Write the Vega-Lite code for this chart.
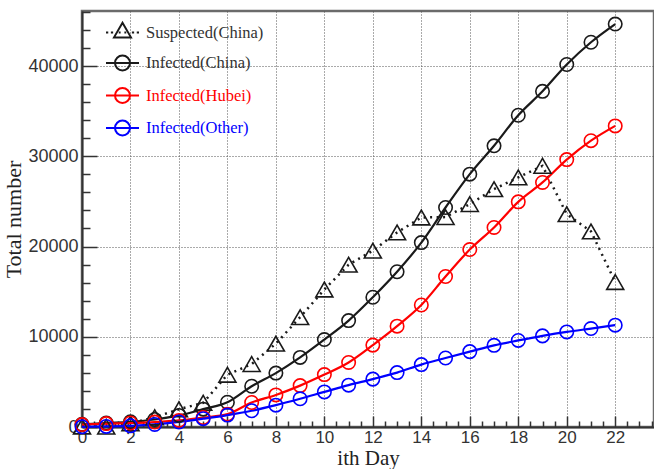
{
  "$schema": "https://vega.github.io/schema/vega-lite/v6.json",
  "width": 572,
  "height": 416,
  "autosize": "none",
  "padding": {"left": 82, "top": 11, "right": 0, "bottom": 42},
  "background": "white",
  "config": {
    "view": {"stroke": "#6b6b6b", "strokeWidth": 2.5},
    "axis": {"labelFont": "Liberation Sans", "titleFont": "Liberation Serif", "titleFontWeight": "normal", "labelColor": "#333", "titleColor": "#222"}
  },
  "data": {"values": [
    {"day": 0, "series": "Suspected(China)", "value": 54},
    {"day": 1, "series": "Suspected(China)", "value": 37},
    {"day": 2, "series": "Suspected(China)", "value": 393},
    {"day": 3, "series": "Suspected(China)", "value": 1072},
    {"day": 4, "series": "Suspected(China)", "value": 1965},
    {"day": 5, "series": "Suspected(China)", "value": 2684},
    {"day": 6, "series": "Suspected(China)", "value": 5794},
    {"day": 7, "series": "Suspected(China)", "value": 6973},
    {"day": 8, "series": "Suspected(China)", "value": 9239},
    {"day": 9, "series": "Suspected(China)", "value": 12167},
    {"day": 10, "series": "Suspected(China)", "value": 15238},
    {"day": 11, "series": "Suspected(China)", "value": 17988},
    {"day": 12, "series": "Suspected(China)", "value": 19544},
    {"day": 13, "series": "Suspected(China)", "value": 21558},
    {"day": 14, "series": "Suspected(China)", "value": 23214},
    {"day": 15, "series": "Suspected(China)", "value": 23260},
    {"day": 16, "series": "Suspected(China)", "value": 24702},
    {"day": 17, "series": "Suspected(China)", "value": 26359},
    {"day": 18, "series": "Suspected(China)", "value": 27657},
    {"day": 19, "series": "Suspected(China)", "value": 28942},
    {"day": 20, "series": "Suspected(China)", "value": 23589},
    {"day": 21, "series": "Suspected(China)", "value": 21675},
    {"day": 22, "series": "Suspected(China)", "value": 16067},
    {"day": 0, "series": "Infected(China)", "value": 291},
    {"day": 1, "series": "Infected(China)", "value": 440},
    {"day": 2, "series": "Infected(China)", "value": 571},
    {"day": 3, "series": "Infected(China)", "value": 830},
    {"day": 4, "series": "Infected(China)", "value": 1287},
    {"day": 5, "series": "Infected(China)", "value": 1975},
    {"day": 6, "series": "Infected(China)", "value": 2744},
    {"day": 7, "series": "Infected(China)", "value": 4515},
    {"day": 8, "series": "Infected(China)", "value": 5974},
    {"day": 9, "series": "Infected(China)", "value": 7711},
    {"day": 10, "series": "Infected(China)", "value": 9692},
    {"day": 11, "series": "Infected(China)", "value": 11791},
    {"day": 12, "series": "Infected(China)", "value": 14380},
    {"day": 13, "series": "Infected(China)", "value": 17205},
    {"day": 14, "series": "Infected(China)", "value": 20438},
    {"day": 15, "series": "Infected(China)", "value": 24324},
    {"day": 16, "series": "Infected(China)", "value": 28018},
    {"day": 17, "series": "Infected(China)", "value": 31161},
    {"day": 18, "series": "Infected(China)", "value": 34546},
    {"day": 19, "series": "Infected(China)", "value": 37198},
    {"day": 20, "series": "Infected(China)", "value": 40171},
    {"day": 21, "series": "Infected(China)", "value": 42638},
    {"day": 22, "series": "Infected(China)", "value": 44653},
    {"day": 0, "series": "Infected(Hubei)", "value": 270},
    {"day": 1, "series": "Infected(Hubei)", "value": 375},
    {"day": 2, "series": "Infected(Hubei)", "value": 444},
    {"day": 3, "series": "Infected(Hubei)", "value": 549},
    {"day": 4, "series": "Infected(Hubei)", "value": 729},
    {"day": 5, "series": "Infected(Hubei)", "value": 1052},
    {"day": 6, "series": "Infected(Hubei)", "value": 1423},
    {"day": 7, "series": "Infected(Hubei)", "value": 2714},
    {"day": 8, "series": "Infected(Hubei)", "value": 3554},
    {"day": 9, "series": "Infected(Hubei)", "value": 4586},
    {"day": 10, "series": "Infected(Hubei)", "value": 5806},
    {"day": 11, "series": "Infected(Hubei)", "value": 7153},
    {"day": 12, "series": "Infected(Hubei)", "value": 9074},
    {"day": 13, "series": "Infected(Hubei)", "value": 11177},
    {"day": 14, "series": "Infected(Hubei)", "value": 13522},
    {"day": 15, "series": "Infected(Hubei)", "value": 16678},
    {"day": 16, "series": "Infected(Hubei)", "value": 19665},
    {"day": 17, "series": "Infected(Hubei)", "value": 22112},
    {"day": 18, "series": "Infected(Hubei)", "value": 24953},
    {"day": 19, "series": "Infected(Hubei)", "value": 27100},
    {"day": 20, "series": "Infected(Hubei)", "value": 29631},
    {"day": 21, "series": "Infected(Hubei)", "value": 31728},
    {"day": 22, "series": "Infected(Hubei)", "value": 33366},
    {"day": 0, "series": "Infected(Other)", "value": 21},
    {"day": 1, "series": "Infected(Other)", "value": 65},
    {"day": 2, "series": "Infected(Other)", "value": 127},
    {"day": 3, "series": "Infected(Other)", "value": 281},
    {"day": 4, "series": "Infected(Other)", "value": 558},
    {"day": 5, "series": "Infected(Other)", "value": 923},
    {"day": 6, "series": "Infected(Other)", "value": 1321},
    {"day": 7, "series": "Infected(Other)", "value": 1801},
    {"day": 8, "series": "Infected(Other)", "value": 2420},
    {"day": 9, "series": "Infected(Other)", "value": 3125},
    {"day": 10, "series": "Infected(Other)", "value": 3886},
    {"day": 11, "series": "Infected(Other)", "value": 4638},
    {"day": 12, "series": "Infected(Other)", "value": 5306},
    {"day": 13, "series": "Infected(Other)", "value": 6028},
    {"day": 14, "series": "Infected(Other)", "value": 6916},
    {"day": 15, "series": "Infected(Other)", "value": 7646},
    {"day": 16, "series": "Infected(Other)", "value": 8353},
    {"day": 17, "series": "Infected(Other)", "value": 9049},
    {"day": 18, "series": "Infected(Other)", "value": 9593},
    {"day": 19, "series": "Infected(Other)", "value": 10098},
    {"day": 20, "series": "Infected(Other)", "value": 10540},
    {"day": 21, "series": "Infected(Other)", "value": 10910},
    {"day": 22, "series": "Infected(Other)", "value": 11287}
  ]},
  "encoding": {
    "color": {
      "field": "series", "type": "nominal",
      "scale": {"domain": ["Suspected(China)", "Infected(China)", "Infected(Hubei)", "Infected(Other)"], "range": ["#1a1a1a", "#1a1a1a", "#ff0000", "#0000ff"]},
      "legend": {
        "title": null, "orient": "none", "legendX": 32, "legendY": 13, "padding": 0,
        "symbolSize": 225, "symbolStrokeWidth": 2, "labelFont": "Liberation Serif", "labelFontSize": 16.5,
        "labelOffset": 15, "rowPadding": 9.5, "labelLimit": 300,
        "encode": {
          "symbols": {"update": {
            "shape": {"signal": "datum.value === 'Suspected(China)' ? 'M-2.2,0H-1.9M-1.55,0H-1.25M1.25,0H1.55M1.9,0H2.2M-0.5,0H-0.25M0.25,0H0.5M0,-1.31L1.13,0.65L-1.13,0.65Z' : 'M-2.2,0H2.2M1,0A1,1 0 1,1 -1,0A1,1 0 1,1 1,0'"},
            "fill": {"value": "transparent"},
            "strokeWidth": {"value": 2}
          }},
          "labels": {"update": {
            "fill": {"signal": "datum.value === 'Infected(Hubei)' ? '#ff0000' : datum.value === 'Infected(Other)' ? '#0000ff' : '#333333'"}
          }}
        }
      }
    }
  },
  "resolve": {"axis": {"x": "independent", "y": "independent"}},
  "layer": [
    {
      "transform": [{"filter": "datum.series === 'Suspected(China)'"}],
      "mark": {"type": "line", "strokeWidth": 2.5, "strokeDash": [2, 4.5]},
      "encoding": {
        "x": {"field": "day", "type": "quantitative", "scale": {"domain": [0, 23.6], "nice": false, "zero": false},
          "axis": {"orient": "bottom", "values": [0, 2, 4, 6, 8, 10, 12, 14, 16, 18, 20, 22], "title": "ith Day", "titleFontSize": 21, "titlePadding": 2.5,
            "labelFontSize": 17, "tickSize": -11, "labelPadding": 13, "tickColor": "#333", "tickWidth": 1.5,
            "domainColor": "#333", "domainWidth": 2, "grid": true, "gridDash": [1, 2], "gridColor": "#555", "gridOpacity": 1, "labelFlush": false}},
        "y": {"field": "value", "type": "quantitative", "scale": {"domain": [0, 46100], "nice": false},
          "axis": {"orient": "left", "values": [0, 10000, 20000, 30000, 40000], "format": "d", "title": "Total number", "titleFontSize": 22, "titlePadding": 2,
            "labelFontSize": 18, "tickSize": -15, "labelPadding": 19, "tickColor": "#333", "tickWidth": 1.5,
            "domainColor": "#333", "domainWidth": 2, "grid": true, "gridDash": [1, 2], "gridColor": "#555", "gridOpacity": 1, "labelFlush": false}}
      }
    },
    {
      "transform": [{"filter": "datum.series !== 'Suspected(China)'"}],
      "mark": {"type": "line", "strokeWidth": 2.2, "interpolate": "monotone"},
      "encoding": {
        "x": {"field": "day", "type": "quantitative", "axis": null},
        "y": {"field": "value", "type": "quantitative", "axis": null}
      }
    },
    {
      "transform": [{"filter": "datum.series === 'Suspected(China)'"}],
      "mark": {"type": "point", "shape": "triangle-up", "size": 289, "filled": false, "strokeWidth": 1.6, "opacity": 1},
      "encoding": {
        "x": {"field": "day", "type": "quantitative", "axis": null},
        "y": {"field": "value", "type": "quantitative", "axis": null}
      }
    },
    {
      "transform": [{"filter": "datum.series !== 'Suspected(China)'"}],
      "mark": {"type": "point", "shape": "circle", "size": 180, "filled": false, "strokeWidth": 1.6, "opacity": 1},
      "encoding": {
        "x": {"field": "day", "type": "quantitative",
          "axis": {"orient": "bottom", "values": [0.5,1,1.5,2.5,3,3.5,4.5,5,5.5,6.5,7,7.5,8.5,9,9.5,10.5,11,11.5,12.5,13,13.5,14.5,15,15.5,16.5,17,17.5,18.5,19,19.5,20.5,21,21.5,22.5,23,23.5],
            "labels": false, "title": null, "domain": false, "grid": false, "tickSize": -6, "tickColor": "#333", "tickWidth": 1.5}},
        "y": {"field": "value", "type": "quantitative",
          "axis": {"orient": "left", "values": [2000,4000,6000,8000,12000,14000,16000,18000,22000,24000,26000,28000,32000,34000,36000,38000,42000,44000,46000],
            "labels": false, "title": null, "domain": false, "grid": false, "tickSize": -8, "tickColor": "#333", "tickWidth": 1.5}}
      }
    }
  ]
}
